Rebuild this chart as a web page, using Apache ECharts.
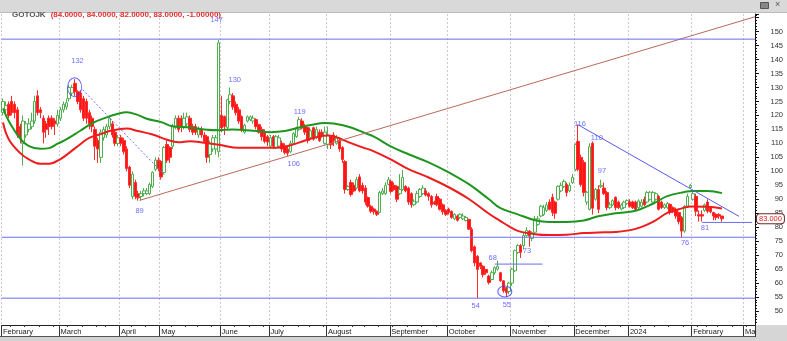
<!DOCTYPE html>
<html><head><meta charset="utf-8">
<script src="https://cdn.jsdelivr.net/npm/echarts@6/dist/echarts.min.js"></script>
<style>html,body{margin:0;padding:0;background:#fff}#c{width:787px;height:341px}</style>
</head><body><div id="c"></div>
<script>
// Trading calendar (IDX): weekdays minus exchange holidays
const firstDay = '2023-02-01', lastDay = '2024-03-06';
const holidays = ['2023-03-22','2023-03-23','2023-04-07','2023-04-19','2023-04-20','2023-04-21','2023-04-24','2023-04-25','2023-05-01','2023-05-18','2023-06-01','2023-06-02','2023-06-28','2023-06-29','2023-06-30','2023-07-19','2023-08-17','2023-09-28','2023-12-25','2023-12-26','2024-01-01','2024-02-08','2024-02-09','2024-02-14'];
const monthNames = ['January','February','March','April','May','June','July','August','September','October','November','December'];

// OHLC rows per month: [open, close, low, high]
const feb23 = [[121,125,120,126],[122,123.5,121,125],[124,120,119,125],[125,121,120,127],[124,121,119,125],[122,113,112,123],[116,112,110,117],[110,118,102,120],[113,117,112,118],[115,117,114,119],[116,118,115,121],[118,125,117,127],[127,121,120,129],[122,121,119,123],[119,114,110,120],[117,115,112,118],[119,116,113,120],[119,116,115,120],[118,117,113,119],[117,120,116,122]];
const mar23 = [[119,122,118,123],[122,124,121,125],[123,124.5,122,126],[126,130,125,131],[128,130,127,131],[131.5,128.5,127,133],[128.5,125,124,129],[128,122,121,129],[126,119,118,127],[125,119,117,126],[121,117,115,122],[119,116,114,120],[115,109,104,116],[111,108,103,112],[105,114,103,115],[112,115,111,116],[113,116,112,117],[116,119,115,120],[117,113,112,118],[114,110,109,115],[110,112,109,113]];
const apr23 = [[112,110,109,113],[111,107,106,112],[108,101,100,109],[101.5,95,94,102],[91,99,90,100],[96,91,90,97],[92,90.5,89.5,93],[91,92,89.5,93],[92,93,91,94],[92,93,91.5,94],[92,95.3,91.5,96],[94.6,99.6,94,100],[100.7,104,100,105],[104,101,100,105]];
const may23 = [[103.5,98,97,104],[99.6,108.5,99,109],[109.6,104,103,111],[108.5,105,103,109],[109,116,108,117],[115.6,119,115,120],[119,115,114,120],[119,116,114,120],[116,119,115,121],[117,119.5,116,121],[119,115,114,120],[116,114,113,117],[116,114,113,117],[113,115,112,116],[115,113,112,116],[113,110.7,110,114],[112.4,105,103,113],[106,110,103,111],[108,112,107,113],[108,112,106,113],[107,146,105,147]];
const jun23 = [[120,115.5,114,127],[119.6,116,113,120],[115.7,125.6,115,126],[125,127.4,124,130],[127,123,122,128],[124,121,120,125],[122,118,117,123],[119.6,115,114,120],[114,116.5,113.5,117],[118,119.5,117.5,120],[118.5,119.5,118,120],[118,119,117,120],[118.5,116,115,119],[116.7,114,113.5,117],[115,112.4,111,116],[114,110.7,110,115],[112.4,110.5,109,113]];
const jul23 = [[109,112,108.5,113],[112.4,109,108,113],[108.5,112.4,108,113],[109,112,108.5,113],[110,108,107,111],[109,106.7,106,110],[108,106.5,105.5,109],[107,110,106.5,111],[110,113.5,109.5,114],[112.4,115.6,112,116],[115,118.5,114.5,119.5],[118,115.5,115,119],[116,114,113,117],[115.6,111,110,116],[112,114.5,111.5,115],[115.6,111.5,111,116],[112,115,111.5,116],[114,111,110.5,115],[114,113,112,115],[110,114,109.5,116]];
const aug23 = [[109.5,113,108,116],[112.4,109.5,108,113],[113,111,109,114],[110,112,109.5,113],[111,108,107,112],[108.5,104.2,103,109],[103.5,93.5,92,104],[93.5,94.5,93,95],[96,91.7,91,97],[95,93,92.5,96],[94,97,93.5,98],[98,93,92.5,99],[95,93,92,96],[94,89,88,95],[90.6,87.5,87,91],[87.5,85.7,85,88],[86.5,85.5,84.5,87],[85.7,84.6,84,86],[85.3,92.4,85,93],[92,93,91.5,94],[92,95,91.5,96],[95.3,97,95,98]];
const sep23 = [[96.4,92.8,92,97],[95,93.5,93,96],[94.6,90,89,95],[92,93.5,91.5,99],[93.5,97.8,93,100.5],[94.6,93,92.5,95],[94,89,88,94.5],[92,88,87,92.5],[88,89.3,87.5,90],[89,92,88.5,93],[91,93.5,90.5,94],[92,94,91.5,95],[93,91.5,91,94],[92,91,89.5,92.5],[91,88,87,91.5],[89,88.3,88,89.5],[91,88,87.5,92],[90,86.4,86,90.5],[88,85.5,84.5,88.5],[86,84.6,84,86.5]];
const oct23 = [[86.5,85.3,84.5,87],[85.7,83.5,83,86],[83,84.6,82.5,85],[84,82.5,82,84.5],[83.5,84.6,83,85],[83,84,82.5,85],[82.4,83.5,82,84],[82.8,79.3,79,83],[79.3,71.6,71,80],[73,67.2,66,73.5],[69.6,64.9,54.5,70],[67.2,66,65,67.5],[66,63,62,66.5],[64.9,63.7,63,65],[62.5,60.2,59.5,63],[61.3,63.7,61,64.5],[63.7,65.5,63,66],[65,66,64.5,68],[63.7,60.8,60.5,64],[60.8,57.2,56.5,61],[58.4,56.6,55,58.6],[57,60,56,60.5]];
const nov23 = [[60,65,59,65.5],[64.4,71.6,64,72],[71,73.4,70.5,74],[73.4,71,69,74],[73.4,77,72,78],[77,78.8,76.5,80],[78.6,76.8,73,79],[76,78,75,78.5],[78.2,83,78,84],[81,83,80.5,84],[84,87.5,83.5,88],[84.5,87,84,88],[86,88,85.5,89],[89,86.4,86,90],[90.7,85.3,84,92],[89,85,83,89.5],[90,94.6,89.5,95],[93,95,92.5,96],[94.6,96.4,94,97],[95.3,92.4,91,96],[93,95,92.5,96],[96,97.8,95.5,99]];
const dec23 = [[100.7,109.6,100,110],[110.7,100.7,100,116.7],[105,95.3,94.5,106],[103.2,92.4,91,104],[89,92.5,88,93],[86.4,108.8,86,110],[110,86.8,84.5,110.7],[90,93.5,89.5,94],[93.5,86.4,85,95],[94.5,95,94,97],[94,92,91.5,96],[92.4,87,86,93],[87,88,86.5,89],[88,89.5,87.5,90],[90.7,87,86,91],[89,87,86.5,89.5],[86.5,88,86,88.5],[87,89,86.5,89.5],[88.5,89.5,88,90]];
const jan24 = [[89,87.5,87,90],[89,87,86.5,89.5],[89,86.4,86,89.5],[87,89.4,86.5,90],[87.5,89,87,90],[90,88,87.5,91],[89,92.4,88.5,93],[90,92.5,89.5,93],[89,92.4,88.5,93],[90,92,89.5,92.5],[91,86.4,86,91.5],[89,87,86.5,89.5],[87,88,86.5,88.5],[87,88.5,86.5,89],[88.2,85.3,84.5,88.5],[87,85.5,85,87.5],[86.4,84,83,87],[85.3,82,81,85.5],[83.5,78.6,76.4,84],[78.6,87.5,78,88],[87.5,91,87,92],[94.2,95,94,95.5]];
const feb24 = [[90,92,89.5,93],[91,85.7,84,92],[84.5,84,82,86],[84.5,84,82,86],[86,88,85.5,88.5],[89,85.7,85,90],[87,85.5,85,87.5],[85.3,84,82.5,85.5],[84.6,83.5,82.5,85],[84.5,84,83,85],[84,83,82,84]];

// Moving averages: [trading-day index, value]
const maGreen = [[0,122.5],[2,118],[6,111.7],[9,109],[13,108.1],[16,108.3],[19,109.9],[22,111.4],[27,114.6],[31,117.2],[36,119.3],[40,120.6],[43,121.1],[47,120.1],[50,118.8],[55,117.6],[59,116.1],[65,115.7],[70,115],[75,114.7],[80,115],[87,114.5],[93,114],[98,114.4],[103,115.7],[107,116.6],[112,117.3],[115,117.1],[121,115.7],[126,113.6],[129,112.4],[135,108.8],[141,106.1],[148,103.2],[155,99.6],[162,95.4],[169,90],[173,86.8],[179,84.6],[185,82.5],[190,81.9],[196,81.9],[202,82.4],[207,83.9],[213,85],[220,85.9],[226,88.4],[231,91.1],[237,92.6],[240,93],[245,93],[250,92.2]];
const maRed = [[0,117.5],[2,111.5],[6,106.5],[9,104.3],[13,102.7],[16,102.7],[20,104.4],[23,106.6],[27,109.8],[30,112],[34,113.3],[37,114.4],[43,115.3],[47,114.4],[52,113.2],[57,111.3],[61,110.4],[65,110.8],[70,110.2],[75,109.5],[82,108.4],[88,108.4],[95,108.4],[100,109.3],[105,111],[110,112.5],[113,112.8],[116,112.2],[121,110.1],[126,108.2],[128,107.6],[135,104.2],[141,100.8],[148,97.8],[155,94.3],[162,90.1],[169,84.8],[173,82.2],[176,80.3],[179,78.7],[185,77.5],[190,77.2],[196,77.3],[202,77.9],[207,78.1],[213,78.3],[220,79.4],[226,81.9],[231,85.1],[235,86.4],[239,87.4],[245,87.3],[250,86.7]];

// Drawn studies: [index, price] end points
const trendUp = [[47.5,89.6],[261.5,155.3]];
const trendDot = [[27.7,129.2],[56.6,98.2]];
const trendDown = [[199.9,116.7],[255.9,83.9]];
const levelLines = [[[-0.5,147.3],[261.5,147.3]],[[-0.5,76.4],[261.5,76.4]],[[-0.5,54.6],[261.5,54.6]],[[171,66.8],[187.6,66.8]],[[243.1,81.7],[260.5,81.7]]];
const circles = [[24.9,130.1],[174.5,57]];
const notes = [['132',25.9,139.6],['89',47.5,85.7],['147',74.3,154.2],['130',80.6,132.8],['119',103.2,121.4],['106',101.1,102.8],['68',170.3,68.9],['73',182.2,71.5],['54',164.4,51.9],['55',175.2,52.2],['116',200.6,117.1],['110',206.5,112.1],['97',208.3,100.3],['76',237.2,74.3],['81',244.1,79.6]];
const lastPrice = 83;
const titleName = 'GOTOJK';
const titleVals = '(84.0000, 84.0000, 82.0000, 83.0000, -1.00000)';

// ---- build ----
const dates = [];
for (let t = Date.parse(firstDay + 'T00:00:00Z'); t <= Date.parse(lastDay + 'T00:00:00Z'); t += 864e5) {
  const d = new Date(t), wd = d.getUTCDay();
  if (wd === 0 || wd === 6) continue;
  const s = d.toISOString().slice(0, 10);
  if (holidays.includes(s)) continue;
  dates.push(s);
}
const candles = [].concat(feb23, mar23, apr23, may23, jun23, jul23, aug23, sep23, oct23, nov23, dec23, jan24, feb24);
const N = dates.length;
const isMonthStart = i => i === 0 || dates[i].slice(5, 7) !== dates[i - 1].slice(5, 7);
const isWeekStart = i => i > 0 && new Date(dates[i]).getUTCDay() <= new Date(dates[i - 1]).getUTCDay();
const monthLabel = v => { const m = +v.slice(5, 7) - 1; return m === 0 ? v.slice(0, 4) : monthNames[m]; };
const FF = 'Liberation Sans, Arial, sans-serif';
const blue = '#4a4aff';

const chart = echarts.init(document.getElementById('c'), null, {renderer: 'canvas'});
chart.setOption({
  animation: false,
  backgroundColor: '#ffffff',
  textStyle: {fontFamily: FF},
  title: {
    left: 7, top: 1,
    text: '{a|' + titleName + '} {b|' + titleVals + '}',
    textStyle: {rich: {a: {fontSize: 8, color: '#555', fontFamily: FF}, b: {fontSize: 8, color: '#e03030', fontFamily: FF}}}
  },
  grid: {left: 1, right: 32, top: 14, bottom: 16},
  xAxis: [
    {type: 'category', data: dates, position: 'bottom', boundaryGap: true,
     axisLine: {onZero: false, lineStyle: {color: '#222', width: 1}},
     axisTick: {show: true, interval: i => isMonthStart(i), length: 12, lineStyle: {color: '#333'}},
     axisLabel: {interval: i => isMonthStart(i), formatter: monthLabel, align: 'left', margin: 3, fontSize: 7.5, color: '#222', fontFamily: FF, hideOverlap: false},
     splitLine: {show: true, interval: i => isMonthStart(i), lineStyle: {color: '#d4c6cc', type: [2, 2], width: 1}}},
    {type: 'category', data: dates, position: 'bottom', boundaryGap: true,
     axisLine: {show: false, onZero: false},
     axisTick: {show: true, interval: i => isWeekStart(i), length: 2, lineStyle: {color: '#333'}},
     axisLabel: {show: false}, splitLine: {show: false}},
    {type: 'value', min: -0.5, max: N - 0.5, show: false}
  ],
  yAxis: {
    type: 'value', position: 'right', min: 45, max: 156.3, interval: 5,
    axisLine: {show: true, onZero: false, lineStyle: {color: '#111'}},
    axisTick: {show: true, length: 4, lineStyle: {color: '#111'}},
    minorTick: {show: true, splitNumber: 5, length: 2, lineStyle: {color: '#111'}},
    splitLine: {show: false},
    axisLabel: {fontSize: 7.5, color: '#333', fontFamily: FF, align: 'right', margin: 28,
      showMinLabel: false, showMaxLabel: false,
      formatter: v => (v >= 50 && v <= 150 && Math.abs(v % 5) < 1e-6) ? String(v) : ''},
    axisPointer: {show: true, type: 'none', value: lastPrice, status: 'show', triggerTooltip: false,
      label: {show: true, formatter: () => lastPrice.toFixed(3), backgroundColor: '#fff', borderColor: '#6b2a2a', borderWidth: 1,
        color: '#e02020', fontSize: 7.5, fontFamily: FF, padding: [1, 2, 0, 2], margin: 2}}
  },
  series: [
    {type: 'candlestick', xAxisIndex: 0, yAxisIndex: 0, data: candles, barWidth: 3, z: 2,
     itemStyle: {color: '#ffffff', color0: '#ff1414', borderColor: '#4fae4f', borderColor0: '#ff2a2a', borderWidth: 1}},
    {type: 'line', xAxisIndex: 2, data: maGreen, smooth: 0.4, showSymbol: false, z: 3,
     lineStyle: {color: '#1e961e', width: 2}},
    {type: 'line', xAxisIndex: 2, data: maRed, smooth: 0.4, showSymbol: false, z: 3,
     lineStyle: {color: '#ee1c1c', width: 2}},
    {type: 'line', xAxisIndex: 2, data: trendUp, showSymbol: false, z: 4,
     lineStyle: {color: '#b66a5c', width: 1}},
    {type: 'line', xAxisIndex: 2, data: trendDot, showSymbol: false, z: 4,
     lineStyle: {color: '#6e6eff', width: 1, type: [2, 2]}},
    {type: 'line', xAxisIndex: 2, data: trendDown, showSymbol: false, z: 4,
     lineStyle: {color: '#5a5aee', width: 1}},
    ...levelLines.map(seg => ({type: 'line', xAxisIndex: 2, data: seg, showSymbol: false, z: 4,
     lineStyle: {color: '#6c6cf4', width: 1}})),
    {type: 'scatter', xAxisIndex: 2, data: circles, symbol: 'circle', z: 5,
     symbolSize: (v, p) => p.dataIndex === 0 ? [14, 19] : [14, 11],
     itemStyle: {color: 'rgba(0,0,0,0)', borderColor: '#4040ff', borderWidth: 1}},
    {type: 'scatter', xAxisIndex: 2, z: 6, symbolSize: 1,
     data: notes.map(n => ({name: n[0], value: [n[1], n[2]]})),
     itemStyle: {color: 'rgba(0,0,0,0)'},
     label: {show: true, position: 'inside', formatter: p => p.name, color: blue, fontSize: 7.5, fontFamily: FF}}
  ],
  graphic: [
    {type: 'rect', left: 0, top: 0, z: -1, shape: {width: 787, height: 12}, style: {fill: '#d9d9d9'}},
    {type: 'rect', left: 0, top: 12, z: -1, shape: {width: 787, height: 1}, style: {fill: '#bcbcbc'}},
    {type: 'rect', left: 0, top: 337, z: 50, shape: {width: 787, height: 4}, style: {fill: '#d3d3d3'}},
    {type: 'rect', left: 0, top: 336, z: 50, shape: {width: 755, height: 1}, style: {fill: '#555'}},
    {type: 'rect', left: 756, top: 325, z: 50, shape: {width: 31, height: 16}, style: {fill: '#d6d6d6'}},
    {type: 'rect', left: 760, top: 2, z: 50, shape: {width: 8, height: 6}, style: {fill: '#888', stroke: '#555'}},
    {type: 'text', left: 775, top: 0, z: 50, style: {text: '×', fill: '#555', fontSize: 9, fontFamily: FF}}
  ]
});
</script></body></html>
